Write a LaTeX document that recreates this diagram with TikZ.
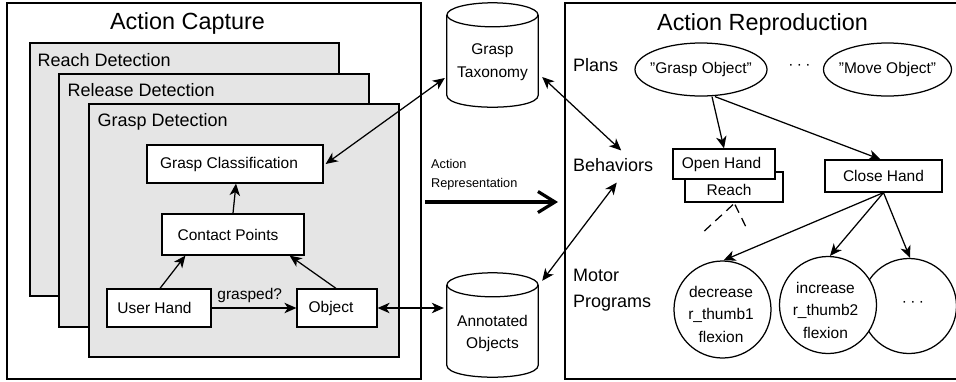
\documentclass[tikz,border=0pt]{standalone}
\usepackage{fontspec}
\setmainfont{Liberation Sans}
\usetikzlibrary{arrows.meta,calc,shapes.geometric}
\definecolor{panelgray}{RGB}{229,229,229}
\newcommand{\titlefnt}{\fontsize{23.4}{28}\selectfont}
\newcommand{\subfnt}{\fontsize{18}{26}\selectfont}
\newcommand{\boxfnt}{\fontsize{15.5}{22.5}\selectfont}
\newcommand{\smallfnt}{\fontsize{12.7}{18.3}\selectfont}
\newcommand{\mycyl}[1]{%
  \draw[ln,fill=white] ($(#1.north west)+(0,12)$) -- ($(#1.south west)+(0,-12)$)
    .. controls ($(#1.south west)+(0,4)$) and ($(#1.south east)+(0,4)$) .. ($(#1.south east)+(0,-12)$)
    -- ($(#1.north east)+(0,12)$);
  \draw[ln] ($(#1.north)+(0,12)$) ellipse [x radius=45.5pt, y radius=12pt];}
\tikzset{
  ln/.style={line width=1.25pt},
  arr/.style={ln,-{Stealth[length=12pt,width=10.5pt,inset=3.5pt]}},
  darr/.style={ln,{Stealth[length=12pt,width=10.5pt,inset=3.5pt]}-{Stealth[length=12pt,width=10.5pt,inset=3.5pt]}},
  outer/.style={draw,ln,inner sep=0pt},
  panel/.style={draw,ln,fill=panelgray,inner sep=0pt},
  box/.style={draw,ln,fill=white,inner sep=0pt,font=\boxfnt},
  btext/.style={inner sep=0pt,font=\boxfnt,align=center},
  sub/.style={inner sep=0pt,font=\subfnt},
  ttl/.style={inner sep=0pt,font=\titlefnt},
  ell/.style={draw,ln,ellipse,fill=white,inner sep=0pt,font=\boxfnt},
  circ/.style={draw,ln,circle,fill=white,inner sep=0pt},
  dsh/.style={ln,dash pattern=on 9pt off 6pt}
}
\begin{document}
\begin{tikzpicture}[x=1pt,y=-1pt]
\useasboundingbox (0,0) rectangle (956,381);
% ---------- Action Capture ----------
\node[outer,minimum width=414,minimum height=376] (cap) at (214,191) {};
\node[ttl,anchor=base] (capt) at (187.5,29.5) {Action Capture};
\node[panel,minimum width=309,minimum height=253] (reach) at (184.5,169.5) {};
\node[sub,anchor=base west] (reachl) at ($(reach.north west)+(8,24.5)$) {Reach Detection};
\node[panel,minimum width=310,minimum height=253] (rel) at (214,200.5) {};
\node[sub,anchor=base west] (rell) at ($(rel.north west)+(9,23.5)$) {Release Detection};
\node[panel,minimum width=310,minimum height=253] (gd) at (244,230.5) {};
\node[sub,anchor=base west] (gdl) at ($(gd.north west)+(9,23.5)$) {Grasp Detection};
\node[box,minimum width=176,minimum height=38] (gc) at (235,164) {Grasp Classification\hspace*{12pt}};
\node[box,minimum width=142,minimum height=41] (cp) at (233,234.5) {Contact Points\hspace*{10pt}};
\node[box,minimum width=104,minimum height=38] (uh) at (159,308) {User Hand\hspace*{9pt}};
\node[box,minimum width=80,minimum height=38] (obj) at (337,308) {Object\hspace*{12pt}};
\draw[arr] ($(uh.north)+(1,0)$) -- ($(cp.south west)+(24,0)$);
\draw[arr] ($(obj.north)+(-1,0)$) -- ($(cp.south east)+(-15,0)$);
\draw[arr] (cp.north) -- ($(gc.south)+(1,0)$);
\draw[arr] (uh.east) -- node[above,inner sep=4.5pt,font=\boxfnt,pos=0.45] {grasped?} (obj.west);
% ---------- middle ----------
\node[inner sep=0pt,minimum width=91,minimum height=104] (gt) at (492.5,55) {};
\mycyl{gt}
\node[btext,anchor=north] (gtl) at (492.5,43.5) {Grasp\\Taxonomy};
\node[inner sep=0pt,minimum width=91,minimum height=104] (ao) at (492.5,325) {};
\mycyl{ao}
\node[btext,anchor=north] (aol) at (492.5,315) {Annotated\\Objects};
\node[inner sep=0pt,font=\smallfnt,align=left,anchor=north west] (arl) at (431,159.5) {Action\\Representation};
\coordinate (ar1) at (425,202);
\coordinate (ar2) at (558,202);
\draw[line width=3.2pt,-{Straight Barb[length=17pt,width=21pt]}] (ar1) -- (ar2);
\draw[darr] ($(gc.east)+(2,0)$) -- ($(gt.west)+(-2,23)$);
\draw[darr] (obj.east) -- ($(ao.west)+(-3,-17)$);
% ---------- Action Reproduction ----------
\node[outer,minimum width=392,minimum height=376] (rep) at (761,191) {};
\node[ttl,anchor=base] (rept) at (762.5,30) {Action Reproduction};
\node[sub,anchor=base west] (plans) at (573,71) {Plans};
\node[sub,anchor=base west] (beh) at (573,171.7) {Behaviors};
\node[sub,anchor=north west,align=left] (mp) at (573,269) {Motor\\Programs};
\node[ell,minimum width=132,minimum height=53] (go) at (701,69.5) {\makebox[0pt]{"Grasp Object"}};
\node[ell,minimum width=128,minimum height=53] (mo) at (887.5,69.5) {\makebox[0pt]{"Move Object"}};
\node[btext] (dots1) at (799.5,67) {·\hspace{3.4pt}·\hspace{3.4pt}·};
\node[box,minimum width=98,minimum height=30] (rc) at (734,187) {};
\node[btext] (rcl) at (729,190) {Reach};
\node[box,minimum width=102,minimum height=30] (oh) at (724,164) {Open Hand\hspace*{5pt}};
\node[box,minimum width=117,minimum height=32] (ch) at (883.5,176) {Close Hand};
\node[circ,minimum size=95] (more) at (909,306) {};
\node[btext] (dots2) at (913,304) {·\hspace{3.4pt}·\hspace{3.4pt}·};
\node[circ,minimum size=97] (inc) at (828,305) {};
\node[btext] (incl) at (825.5,310) {increase\\r\_thumb2\\flexion};
\node[circ,minimum size=97] (dec) at (722.5,309.5) {};
\node[btext] (decl) at (721,314) {decrease\\r\_thumb1\\flexion};
\coordinate (d1) at (700,235);
\coordinate (d2) at (747,229);
\draw[dsh] ($(rc.south)+(-1,2)$) -- (d1);
\draw[dsh] ($(rc.south)+(1,2)$) -- (d2);
\draw[arr] ($(go.south)+(11,0)$) -- (oh.north);
\draw[arr] ($(go.south)+(14,0)$) -- ($(ch.north)+(-3,0)$);
\draw[arr] (ch.south) -- ($(dec.north)+(1,0)$);
\draw[arr] (ch.south) -- ($(inc.north)+(2,0)$);
\draw[arr] (ch.south) -- ($(more.north)+(1,0)$);
\draw[darr] ($(gt.east)+(4,22)$) -- ($(beh.north)+(8,-8)$);
\draw[darr] ($(ao.north east)+(4,8)$) -- ($(beh.south)+(3.5,10.5)$);
\end{tikzpicture}
\end{document}
